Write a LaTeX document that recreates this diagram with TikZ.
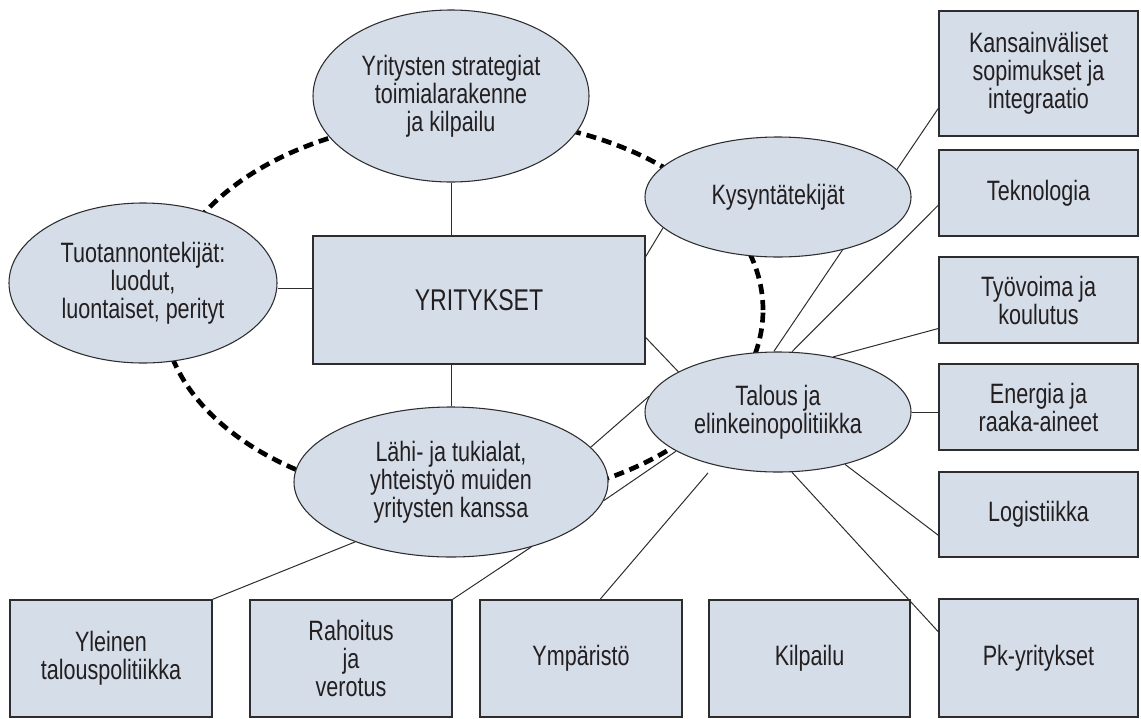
\documentclass[tikz,border=0pt]{standalone}
\usepackage{fontspec}
\setmainfont{Liberation Sans}[FakeStretch=0.77]
\usetikzlibrary{shapes.geometric,backgrounds,calc}
\definecolor{fillc}{RGB}{213,221,232}
\definecolor{edgec}{RGB}{45,45,45}
\definecolor{txtc}{RGB}{35,31,32}
\begin{document}
\begin{tikzpicture}[x=0.75pt,y=-0.75pt,
  every node/.style={text=txtc, font=\fontsize{21}{21}\selectfont, align=center, inner sep=0pt},
  ell/.style={ellipse, draw=edgec, line width=0.8pt, fill=fillc},
  box/.style={rectangle, draw=edgec, line width=1.1pt, fill=fillc},
  rbox/.style={box, minimum width=149.25pt},
  bbox/.style={box, minimum height=87.75pt},
  conn/.style={draw=edgec, line width=0.75pt},
  ring/.style={draw=black, line width=3.5pt, dash pattern=on 7.5pt off 4.5pt}]
\useasboundingbox (0,0) rectangle (1141,718);

% ellipses
\node[ell, minimum width=207pt, minimum height=129pt] (str) at (451,96) {Yritysten strategiat\\toimialarakenne\\ja kilpailu};
\node[ell, minimum width=201pt, minimum height=120pt] (tuo) at (143,283) {Tuotannontekijät:\\luodut,\\luontaiset, perityt};
\node[ell, minimum width=199.5pt, minimum height=90pt] (kys) at (778,197) {Kysyntätekijät};
\node[ell, minimum width=199.5pt, minimum height=90pt] (tal) at (778,412) {Talous ja\\elinkeinopolitiikka};
\node[ell, minimum width=235.5pt, minimum height=112.5pt] (lah) at (451,482) {Lähi- ja tukialat,\\yhteistyö muiden\\yritysten kanssa};

% centre
\node[box, minimum width=249pt, minimum height=96pt, font=\fontsize{22.5}{22.5}\selectfont] (yri) at (479,300) {YRITYKSET};

% right column
\node[rbox, minimum height=93.75pt] (kan) at (1038.5,73.5) {Kansainväliset\\sopimukset ja\\integraatio};
\node[rbox, minimum height=64.5pt] (tek) at (1038.5,193) {Teknologia};
\node[rbox, minimum height=64.5pt] (tyo) at (1038.5,300) {Työvoima ja\\koulutus};
\node[rbox, minimum height=64.5pt] (ene) at (1038.5,407) {Energia ja\\raaka-aineet};
\node[rbox, minimum height=63.75pt] (log) at (1038.5,514.5) {Logistiikka};
\node[rbox, minimum height=88.5pt] (pk) at (1038.5,658) {Pk-yritykset};

% bottom row
\node[bbox, minimum width=151.5pt] (yle) at (111,658.5) {Yleinen\\talouspolitiikka};
\node[bbox, minimum width=151.5pt] (rah) at (351,658.5) {Rahoitus\\ja\\verotus};
\node[bbox, minimum width=151.5pt] (ymp) at (581,658.5) {Ympäristö};
\node[bbox, minimum width=150.75pt] (kil) at (809.5,658.5) {Kilpailu};

\begin{pgfonlayer}{background}
\draw[ring] (463,310) ellipse [x radius=225pt, y radius=144pt];
\coordinate (yw) at ($(yri.north west)!0.414!(yri.south west)$);
\draw[conn] (str.south) -- (str.south |- yri.north);
\draw[conn] (tuo.east |- yw) -- (yw);
\draw[conn] (lah.north |- yri.south) -- (lah.north);
\draw[conn] ($(yri.north east)!0.164!(yri.south east)$) -- (kys.195);
\draw[conn] ($(yri.north east)!0.79!(yri.south east)$) -- (tal.158);
\draw[conn] (tal.94) -- ($(kan.north west)!0.776!(kan.south west)$);
\draw[conn] (tal.77) -- ($(tek.north west)!0.64!(tek.south west)$);
\draw[conn] (tal.45) -- ($(tyo.north west)!0.826!(tyo.south west)$);
\draw[conn] (tal.east) -- (tal.east -| ene.west);
\draw[conn] (tal.322) -- ($(log.north west)!0.74!(log.south west)$);
\draw[conn] (tal.283) -- ($(pk.north west)!0.28!(pk.south west)$);
\draw[conn, shorten <=7.5pt] (tal.220) -- ($(ymp.north west)!0.594!(ymp.north east)$);
\draw[conn] (lah.321) -- (rah.north east);
\draw[conn] (lah.212) -- (yle.north east);
\draw[conn] (lah.14) -- (tal.173);
\draw[conn] (lah.353) -- (tal.201);
\end{pgfonlayer}
\end{tikzpicture}
\end{document}
